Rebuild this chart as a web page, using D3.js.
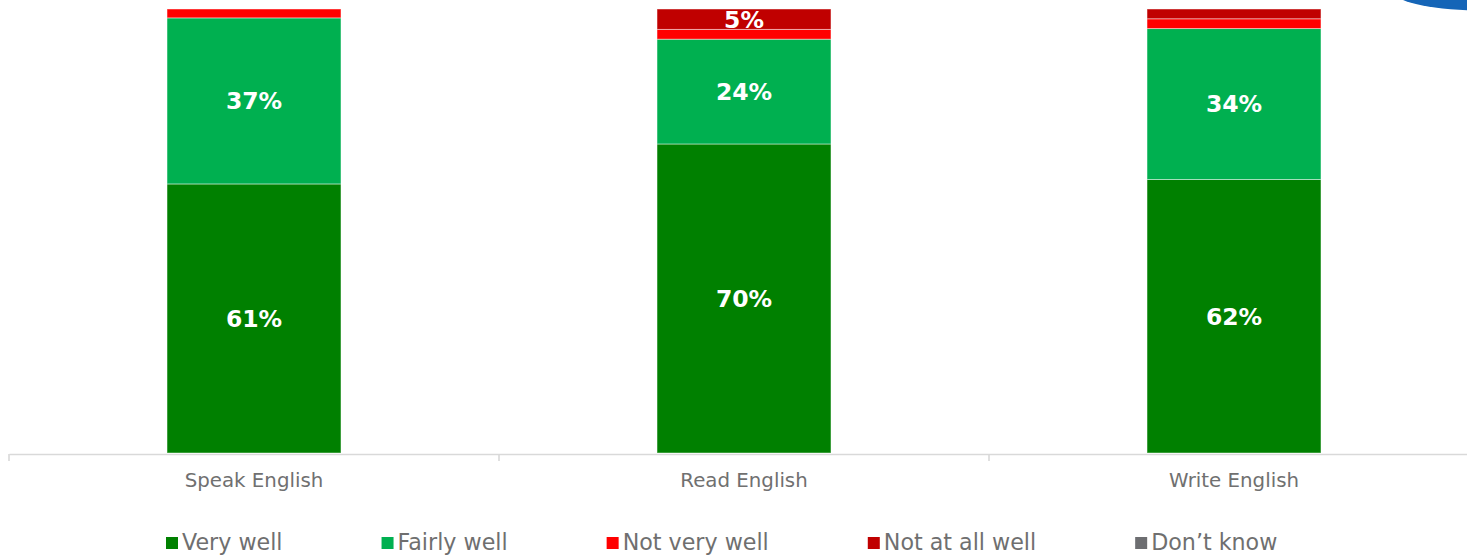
<!DOCTYPE html>
<html>
<head>
<meta charset="utf-8">
<script src="https://cdn.jsdelivr.net/npm/d3@7"></script>
<style>
  html, body { margin: 0; padding: 0; background: #fff; overflow: hidden; }
  svg { display: block; font-family: "DejaVu Sans", Verdana, sans-serif; }
</style>
</head>
<body>
<svg id="chart"></svg>
<script>
var categories = ["Speak English", "Read English", "Write English"];
var seriesNames = ["Very well", "Fairly well", "Not very well", "Not at all well", "Don\u2019t know"];
var veryWell    = [60.6, 69.6, 61.6];
var fairlyWell  = [37.4, 23.6, 34.0];
var notVeryWell = [2.0, 2.2, 2.2];
var notAtAll    = [0.0, 4.6, 2.2];
var dontKnow    = [0.0, 0.0, 0.0];
var colors = ["#008000", "#00b050", "#ff0000", "#c00000", "#6d6e71"];

var width = 1467, height = 560;
var svg = d3.select("#chart").attr("width", width).attr("height", height);

var cols = [veryWell, fairlyWell, notVeryWell, notAtAll, dontKnow];
var data = categories.map(function(c, i) {
  var row = { cat: c };
  seriesNames.forEach(function(s, j) { row[s] = cols[j][i]; });
  return row;
});

var stack = d3.stack().keys(seriesNames).offset(d3.stackOffsetNone);
var series = stack(data);

var x = d3.scaleBand().domain(categories).range([9, 1479]).paddingInner(0.645).paddingOuter(0.3225);
var y = d3.scaleLinear().domain([0, 100]).range([453, 9]);
var color = d3.scaleOrdinal().domain(seriesNames).range(colors);

// bars
var layer = svg.selectAll("g.layer").data(series).enter().append("g")
    .attr("class", "layer")
    .attr("fill", function(d) { return color(d.key); });

layer.selectAll("rect").data(function(d) { return d; }).enter().append("rect")
    .attr("x", function(d) { return x(d.data.cat); })
    .attr("width", x.bandwidth())
    .attr("y", function(d) { return y(d[1]); })
    .attr("height", function(d) { return Math.max(0, y(d[0]) - y(d[1])); })
    .attr("stroke", "rgba(255,255,255,0.45)")
    .attr("stroke-width", 1);

// value labels
layer.selectAll("text").data(function(d) { return d.filter(function(v) { return v[1] - v[0] >= 4; }); })
  .enter().append("text")
    .attr("x", function(d) { return x(d.data.cat) + x.bandwidth() / 2; })
    .attr("y", function(d) { return (y(d[0]) + y(d[1])) / 2; })
    .attr("dy", "0.36em")
    .attr("text-anchor", "middle")
    .attr("fill", "#fff")
    .attr("font-weight", "bold")
    .attr("font-size", 23.5)
    .text(function(d) { return Math.round(d[1] - d[0]) + "%"; });

// x axis
var xAxis = d3.axisBottom(x).tickSize(0).tickSizeOuter(0).tickPadding(19);
var gx = svg.append("g").attr("transform", "translate(0,454)").call(xAxis);
gx.select(".domain").attr("stroke", "#d9d9d9").attr("stroke-width", 1.6);
gx.selectAll(".tick text").attr("fill", "#707070").attr("font-size", 19.8)
  .attr("font-family", "DejaVu Sans, Verdana, sans-serif");
var bounds = categories.map(function(c) { return x(c) - x.step() * x.paddingInner() / 2; });
bounds.push(bounds[bounds.length - 1] + x.step());
gx.selectAll("line.bound").data(bounds).enter().append("line")
    .attr("class", "bound")
    .attr("x1", function(d) { return d; }).attr("x2", function(d) { return d; })
    .attr("y1", 0).attr("y2", 7)
    .attr("stroke", "#d9d9d9").attr("stroke-width", 1.6);

// legend
var legend = svg.append("g").attr("transform", "translate(166,0)");
var lx = 0;
seriesNames.forEach(function(s) {
  var g = legend.append("g").attr("transform", "translate(" + lx + ",0)");
  g.append("rect").attr("x", 0).attr("y", 537).attr("width", 12).attr("height", 12).attr("fill", color(s));
  var t = g.append("text").attr("x", 16).attr("y", 550).attr("font-size", 22.2)
      .attr("fill", "#6f6f6f").text(s);
  lx += 16 + t.node().getComputedTextLength() + 99;
});

// blue logo corner
svg.append("ellipse")
    .attr("cx", 1485).attr("cy", -7.4).attr("rx", 90).attr("ry", 17.9)
    .attr("fill", "#1565b7");
</script>
</body>
</html>
